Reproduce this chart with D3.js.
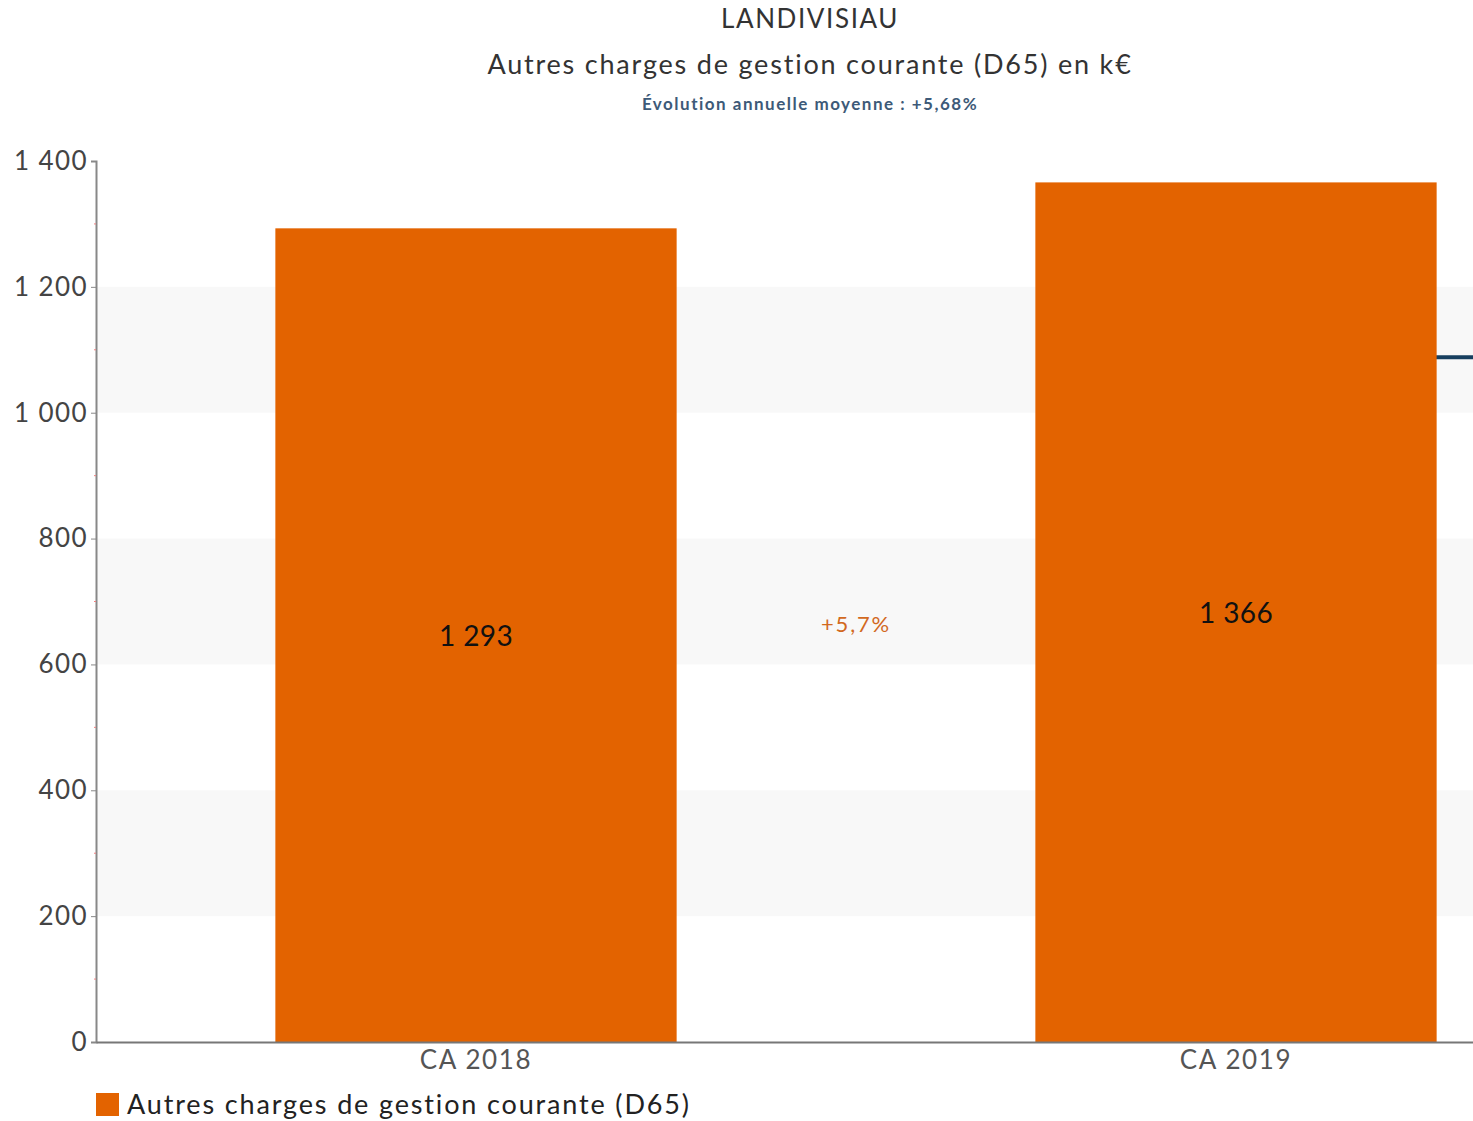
<!DOCTYPE html>
<html><head><meta charset="utf-8">
<script src="https://cdn.jsdelivr.net/npm/d3@7/dist/d3.min.js"></script>
<style>body{margin:0;background:#fff}svg{display:block}text{font-family:Lato,"Open Sans",sans-serif}</style>
</head><body><svg id="c" width="1473" height="1121"></svg>
<script>
const categories = ["CA 2018", "CA 2019"];
const values = [1293, 1366];
const valueLabels = ["1 293", "1 366"];
const evolutionLabels = ["+5,7%"];
const yTicks = [0, 200, 400, 600, 800, 1000, 1200, 1400];
const yTickLabels = ["0", "200", "400", "600", "800", "1 000", "1 200", "1 400"];
const lineSeries = [1088, 1088];
const titleLines = ["LANDIVISIAU", "Autres charges de gestion courante (D65) en k€", "Évolution annuelle moyenne : +5,68%"];
const legendLabel = "Autres charges de gestion courante (D65)";

(function(){
const FF = "Lato,'Open Sans',sans-serif";
const svg = d3.select("#c");
const mLeft = 96, mTop = 161, mBottom = 1042, mRight = 1616;
const y = d3.scaleLinear().domain([0, 1400]).range([mBottom, mTop]);
const x = d3.scaleBand().domain(categories).range([mLeft, mRight]).paddingInner(0.472).paddingOuter(0.236);

const bandPairs = [[200,400],[600,800],[1000,1200]];
svg.append("g").selectAll("rect").data(bandPairs).join("rect")
  .attr("x", mLeft).attr("width", 1473 - mLeft)
  .attr("y", d => y(d[1])).attr("height", d => y(d[0]) - y(d[1]))
  .attr("fill", "#f8f8f8");

const xc = d => x(d) + x.bandwidth()/2;
svg.append("line")
  .attr("x1", xc(categories[1])).attr("x2", xc(categories[1]) + x.step())
  .attr("y1", y(lineSeries[0])).attr("y2", y(lineSeries[1]))
  .attr("stroke", "#173f5f").attr("stroke-width", 4);

svg.append("g").selectAll("rect").data(values).join("rect")
  .attr("x", (d,i) => x(categories[i])).attr("width", x.bandwidth())
  .attr("y", d => y(d)).attr("height", d => y(0) - y(d))
  .attr("fill", "#e36300");

svg.append("g").selectAll("text").data(values).join("text")
  .attr("x", (d,i) => xc(categories[i])).attr("y", d => y(d/2))
  .attr("text-anchor", "middle").attr("dominant-baseline", "central")
  .attr("font-size", 28).attr("fill", "#111").attr("letter-spacing", 0.4)
  .text((d,i) => valueLabels[i]);

svg.append("text")
  .attr("x", (xc(categories[0]) + xc(categories[1]))/2)
  .attr("y", (y(values[0]/2) + y(values[1]/2))/2)
  .attr("text-anchor", "middle").attr("dominant-baseline", "central")
  .attr("font-size", 22).attr("fill", "#d2691e").attr("letter-spacing", 1.8)
  .text(evolutionLabels[0]);

const yAxis = d3.axisLeft(y).tickValues(yTicks).tickFormat((d,i) => yTickLabels[i]).tickSize(5).tickPadding(3);
const ga = svg.append("g").attr("transform", `translate(${mLeft},0)`).call(yAxis);
ga.select(".domain").attr("stroke", "#888").attr("stroke-width", 2);
ga.selectAll(".tick line").attr("stroke", "#888");
ga.selectAll(".tick text").attr("font-size", 26).attr("fill", "#444").attr("font-family", FF).attr("letter-spacing", 1.4);
svg.append("g").selectAll("line").data(d3.range(100, 1400, 200)).join("line")
  .attr("x1", mLeft - 2).attr("x2", mLeft).attr("y1", d => y(d)).attr("y2", d => y(d))
  .attr("stroke", "#f08080").attr("stroke-width", 1);

const xAxis = d3.axisBottom(x).tickSize(0).tickPadding(9);
const gx = svg.append("g").attr("transform", `translate(0,${mBottom})`).call(xAxis);
gx.select(".domain").attr("stroke", "#777").attr("stroke-width", 2);
gx.selectAll(".tick text").attr("font-size", 26).attr("fill", "#555").attr("font-family", FF).attr("letter-spacing", 1.6);

const tcx = 810;
svg.append("text").attr("x", tcx).attr("y", 28).attr("text-anchor", "middle").attr("font-size", 26).attr("fill", "#333").attr("letter-spacing", 1.6).text(titleLines[0]);
svg.append("text").attr("x", tcx).attr("y", 74).attr("text-anchor", "middle").attr("font-size", 27).attr("fill", "#333").attr("letter-spacing", 1.8).text(titleLines[1]);
svg.append("text").attr("x", tcx).attr("y", 110).attr("text-anchor", "middle").attr("font-size", 17).attr("font-weight", "bold").attr("fill", "#3d5a78").attr("letter-spacing", 1.5).text(titleLines[2]);

svg.append("rect").attr("x", 96).attr("y", 1093).attr("width", 23).attr("height", 23).attr("fill", "#e36300");
svg.append("text").attr("x", 127).attr("y", 1114).attr("font-size", 27).attr("fill", "#222").attr("letter-spacing", 1.85).text(legendLabel);
})();
</script></body></html>
